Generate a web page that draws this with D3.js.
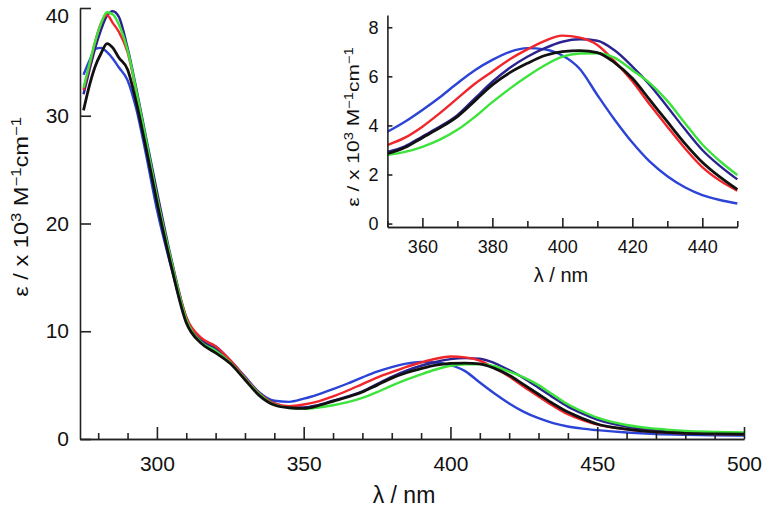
<!DOCTYPE html>
<html><head><meta charset="utf-8">
<script src="https://cdn.jsdelivr.net/npm/d3@7"></script>
<style>
html,body{margin:0;padding:0;background:#fff;}
svg{display:block;font-family:"Liberation Sans",Arial,Helvetica,sans-serif;}
</style></head>
<body><svg id="chart" width="768" height="509"></svg>
<script>
const wavelengths = [275,277,279,281,283,285,287,290,293,296,300,305,310,315,320,325,330,335,340,345,350,355,360,365,370,375,380,385,390,395,400,405,410,415,420,425,430,435,440,445,450,460,470,480,490,500];
const blueValues  = [33.8,35.1,36.2,36.3,35.9,35.3,34.5,33.3,30.6,26.8,21.3,15.8,11.0,9.3,8.6,7.3,5.8,4.3,3.55,3.45,3.74,4.15,4.63,5.15,5.72,6.25,6.67,7.0,7.15,7.1,6.85,6.3,5.24,4.22,3.3,2.52,1.93,1.48,1.16,0.96,0.82,0.6,0.46,0.39,0.35,0.33];
const navyValues  = [32.0,34.2,36.3,38.0,39.3,39.7,39.2,36.3,32.5,28.4,23.0,16.6,11.3,9.2,8.4,7.2,5.7,4.2,3.3,2.95,2.92,3.15,3.55,3.95,4.42,5.1,5.78,6.35,6.8,7.15,7.41,7.51,7.45,7.05,6.4,5.65,4.76,3.85,3.0,2.35,1.8,1.15,0.8,0.62,0.53,0.48];
const redValues   = [32.4,34.6,36.9,38.6,39.35,38.6,37.8,35.9,32.2,28.0,22.5,16.4,11.3,9.4,8.6,7.3,5.7,4.2,3.3,3.05,3.2,3.5,3.95,4.5,5.1,5.7,6.2,6.7,7.1,7.45,7.66,7.58,7.28,6.6,5.8,4.85,3.95,3.07,2.3,1.75,1.34,0.9,0.65,0.52,0.46,0.43];
const greenValues = [32.6,34.8,36.9,38.6,39.6,39.4,38.5,36.1,32.3,28.2,22.5,16.4,11.1,9.0,8.2,7.1,5.6,4.15,3.2,2.9,2.8,2.92,3.13,3.42,3.82,4.35,4.95,5.5,6.0,6.45,6.8,6.93,6.94,6.75,6.25,5.72,5.0,4.1,3.22,2.55,1.98,1.3,0.95,0.75,0.66,0.6];
const blackValues = [30.5,32.8,34.6,35.8,36.7,36.3,35.4,34.3,31.2,27.4,22.0,15.9,10.8,8.9,8.0,7.0,5.5,4.0,3.15,2.9,2.85,3.1,3.5,3.9,4.36,5.0,5.65,6.15,6.53,6.85,7.01,7.05,6.97,6.55,5.92,5.04,4.15,3.27,2.5,1.9,1.39,0.92,0.66,0.53,0.47,0.44];

const seriesNames  = ["blue","navy","red","green","black"];
const seriesColors = ["#2b43d6","#2a2390","#f0262b","#3be33a","#111111"];
const seriesValues = [blueValues,navyValues,redValues,greenValues,blackValues];

const mainYTicks = [0,10,20,30,40];
const mainXMajor = [300,350,400,450,500];
const insetYTicks = [0,2,4,6,8];
const insetXMajor = [360,380,400,420,440];

const svg = d3.select("#chart");
const axisColor = "#222";
const FONT = "Liberation Sans, Arial, sans-serif";

function styleAxis(g){
  g.selectAll("path.domain").attr("stroke",axisColor).attr("stroke-width",1.6);
  g.selectAll(".tick line").attr("stroke",axisColor).attr("stroke-width",1.6);
}
function addYLabel(g, x, y, size, supSize, shift, targetLen){
  const t = g.append("text").attr("transform",`translate(${x},${y}) rotate(-90)`)
    .attr("text-anchor","middle").attr("font-size",size).attr("fill","#111");
  t.append("tspan").text("ε / x 10");
  t.append("tspan").attr("dy",-shift).attr("font-size",supSize).text("3");
  t.append("tspan").attr("dy",shift).text(" M");
  t.append("tspan").attr("dy",-shift).attr("font-size",supSize).text("−1");
  t.append("tspan").attr("dy",shift).text("cm");
  t.append("tspan").attr("dy",-shift).attr("font-size",supSize).text("−1");
  const len = t.node().getBBox().width;
  const sx = len > 0 ? targetLen/len : 1;
  t.attr("transform",`translate(${x},${y}) rotate(-90) scale(${sx},1)`);
}

// ---------- main plot ----------
const x = d3.scaleLinear().domain([273.8,500]).range([80,744]);
const y = d3.scaleLinear().domain([0,40]).range([439,8]);
const main = svg.append("g");

const line = d3.line().x(d=>x(d[0])).y(d=>y(d[1])).curve(d3.curveMonotoneX);
seriesValues.forEach((vals,i)=>{
  main.append("path").datum(wavelengths.map((w,j)=>[w,vals[j]]))
    .attr("fill","none").attr("stroke",seriesColors[i])
    .attr("stroke-width",i===4?2.8:2.4).attr("stroke-linejoin","round").attr("d",line);
});

const xMinor = d3.range(280,501,10).filter(v=>!mainXMajor.includes(v));
const gxMinor = main.append("g").attr("transform","translate(0,439)")
  .call(d3.axisBottom(x).tickValues(xMinor).tickSizeInner(-6).tickSizeOuter(0).tickFormat(""));
styleAxis(gxMinor);
const gx = main.append("g").attr("transform","translate(0,439)")
  .call(d3.axisBottom(x).tickValues(mainXMajor).tickSizeInner(-12).tickSizeOuter(0).tickPadding(17).tickFormat(d3.format("d")));
styleAxis(gx);
gx.selectAll(".tick text").attr("font-size",21).attr("fill","#111").attr("font-family",FONT);

const gy = main.append("g").attr("transform","translate(80,0)")
  .call(d3.axisLeft(y).tickValues(mainYTicks).tickSizeInner(-11).tickSizeOuter(0).tickPadding(11).tickFormat(d3.format("d")));
styleAxis(gy);
gy.selectAll(".tick text").attr("font-size",21).attr("fill","#111").attr("font-family",FONT)
  .attr("dy",d=>d===40?"0.67em":"0.32em");

main.append("text").attr("x",404).attr("y",503).attr("text-anchor","middle")
  .attr("font-size",23).attr("fill","#111").text("λ / nm");
addYLabel(main, 28, 207, 20, 14, 7, 180);

// ---------- inset ----------
const ix = d3.scaleLinear().domain([350,450]).range([387.4,737.3]);
const iy = d3.scaleLinear().domain([-0.14,8.5]).range([227,15]);
const inset = svg.append("g");
const iline = d3.line().x(d=>ix(d[0])).y(d=>iy(d[1])).curve(d3.curveMonotoneX);
seriesValues.forEach((vals,i)=>{
  const pts = wavelengths.map((w,j)=>[w,vals[j]]).filter(d=>d[0]>=350 && d[0]<=450);
  inset.append("path").datum(pts).attr("fill","none").attr("stroke",seriesColors[i])
    .attr("stroke-width",i===4?2.8:2.4).attr("stroke-linejoin","round").attr("d",iline);
});
const ixMinor = d3.range(350,451,10).filter(v=>!insetXMajor.includes(v));
const igxMinor = inset.append("g").attr("transform","translate(0,227)")
  .call(d3.axisBottom(ix).tickValues(ixMinor).tickSizeInner(-6).tickSizeOuter(0).tickFormat(""));
styleAxis(igxMinor);
const igx = inset.append("g").attr("transform","translate(0,227)")
  .call(d3.axisBottom(ix).tickValues(insetXMajor).tickSizeInner(-9).tickSizeOuter(0).tickPadding(13).tickFormat(d3.format("d")));
styleAxis(igx);
igx.selectAll(".tick text").attr("font-size",18).attr("fill","#111").attr("font-family",FONT);
const igy = inset.append("g").attr("transform","translate(387.4,0)")
  .call(d3.axisLeft(iy).tickValues(insetYTicks).tickSizeInner(-5).tickSizeOuter(0).tickPadding(9).tickFormat(d3.format("d")));
styleAxis(igy);
igy.selectAll(".tick text").attr("font-size",18).attr("fill","#111").attr("font-family",FONT);

inset.append("text").attr("x",561).attr("y",282).attr("text-anchor","middle")
  .attr("font-size",20).attr("fill","#111").text("λ / nm");
addYLabel(inset, 359, 127, 17, 12, 6, 160);
</script></body></html>
